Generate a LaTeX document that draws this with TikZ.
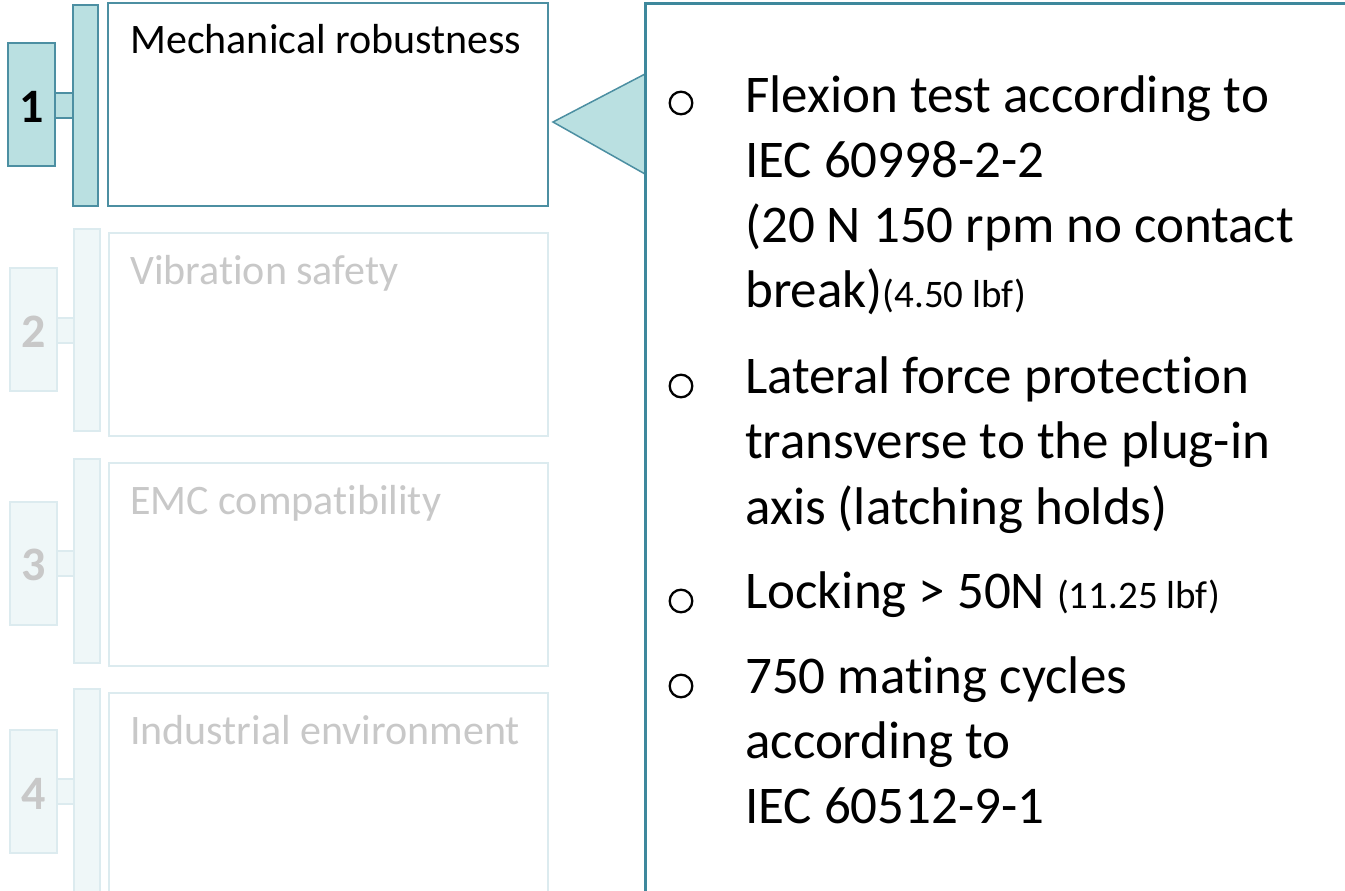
\documentclass[tikz,border=0pt]{standalone}
\usepackage{fontspec}
\setmainfont{Carlito}[RawFeature={-liga;-clig;-dlig;-calt;-rlig}]
\definecolor{tealfill}{HTML}{BAE0E1}
\definecolor{tealline}{HTML}{4C8FA2}
\definecolor{paneline}{HTML}{3E889C}
\definecolor{fadefill}{HTML}{EFF7F8}
\definecolor{fadeline}{HTML}{DCEBEF}
\definecolor{fadetext}{HTML}{C8C8C8}
\tikzset{
  box/.style={anchor=north west, inner sep=0pt, outer sep=0pt},
  onbox/.style={box, draw=tealline, line width=1.5pt},
  offbox/.style={box, draw=fadeline, line width=1.2pt},
  numtxt/.style={font=\fontsize{48}{48}\selectfont\bfseries},
  headtxt/.style={anchor=base west, inner sep=0pt, font=\fontsize{42}{42}\selectfont},
  bodytxt/.style={anchor=base west, inner sep=0pt, font=\fontsize{53}{65}\selectfont},
  bulletring/.style={circle, draw=black, line width=2.3pt, minimum size=22.6pt, inner sep=0pt},
}
\newcommand{\smallnote}[1]{{\fontsize{39}{39}\selectfont #1}}
\begin{document}
\begin{tikzpicture}[x=1pt, y=-1pt]
\useasboundingbox (0,0) rectangle (1345,891);
\clip (0,0) rectangle (1345,891);

% --- item 1 (active) ---
\node[onbox, fill=tealfill, minimum width=47, minimum height=123] (n1) at (8,43) {};
\node[numtxt, anchor=base] (t1) at (32,122) {1};
\node[onbox, fill=tealfill, minimum width=18, minimum height=25] (c1) at (55,93) {};
\node[onbox, fill=tealfill, minimum width=25, minimum height=201] (b1) at (73,5) {};
\node[onbox, fill=white, minimum width=440, minimum height=203] (k1) at (108,3) {};
\node[headtxt] (h1) at (130,54) {Mechanical robustness};

% --- item 2 ---
\node[offbox, fill=fadefill, minimum width=47, minimum height=123] (n2) at (10,268) {};
\node[numtxt, text=fadetext, anchor=base] (t2) at (34,347) {2};
\node[offbox, fill=fadefill, minimum width=17, minimum height=25] (c2) at (57,318) {};
\node[offbox, fill=fadefill, minimum width=26, minimum height=202] (b2) at (74,229) {};
\node[offbox, fill=white, minimum width=439, minimum height=203] (k2) at (109,233) {};
\node[headtxt, text=fadetext] (h2) at (130,284) {Vibration safety};

% --- item 3 ---
\node[offbox, fill=fadefill, minimum width=47, minimum height=123] (n3) at (10,502) {};
\node[numtxt, text=fadetext, anchor=base] (t3) at (34,580) {3};
\node[offbox, fill=fadefill, minimum width=17, minimum height=25] (c3) at (57,551) {};
\node[offbox, fill=fadefill, minimum width=26, minimum height=204] (b3) at (74,459) {};
\node[offbox, fill=white, minimum width=439, minimum height=203] (k3) at (109,463) {};
\node[headtxt, text=fadetext] (h3) at (130,514) {EMC compatibility};

% --- item 4 ---
\node[offbox, fill=fadefill, minimum width=47, minimum height=123] (n4) at (10,730) {};
\node[numtxt, text=fadetext, anchor=base] (t4) at (34,809) {4};
\node[offbox, fill=fadefill, minimum width=17, minimum height=25] (c4) at (57,779) {};
\node[offbox, fill=fadefill, minimum width=26, minimum height=210] (b4) at (74,689) {};
\node[offbox, fill=white, minimum width=439, minimum height=210] (k4) at (109,693) {};
\node[headtxt, text=fadetext] (h4) at (130,744) {Industrial environment};

% --- callout pointer and detail panel ---
\coordinate (tip) at (553,122);
\coordinate (baseA) at (645,74);
\coordinate (baseB) at (645,174);
\filldraw[fill=tealfill, draw=tealline, line width=1.5pt, line join=miter]
  (tip) -- (baseA) -- (baseB) -- cycle;
\node[box, draw=paneline, line width=3pt, fill=none, minimum width=760, minimum height=950] (panel) at (645,4) {};

% --- bullet list ---
\node[bulletring] (r1) at (681,103) {};
\node[bodytxt] (p1a) at (745,112) {Flexion test according to};
\node[bodytxt] (p1b) at (745,177) {IEC 60998-2-2};
\node[bodytxt] (p1c) at (745,242) {(20 N 150 rpm no contact};
\node[bodytxt] (p1d) at (745,307.5) {break)\smallnote{(4.50 lbf)}};

\node[bulletring] (r2) at (681,386) {};
\node[bodytxt] (p2a) at (745,393) {Lateral force protection};
\node[bodytxt] (p2b) at (745,458) {transverse to the plug-in};
\node[bodytxt] (p2c) at (745,524) {axis (latching holds)};

\node[bulletring] (r3) at (681,601) {};
\node[bodytxt] (p3a) at (745,608) {Locking > 50N \smallnote{(11.25 lbf)}};

\node[bulletring] (r4) at (681,686) {};
\node[bodytxt] (p4a) at (745,693) {750 mating cycles};
\node[bodytxt] (p4b) at (745,758) {according to};
\node[bodytxt] (p4c) at (745,823) {IEC 60512-9-1};
\end{tikzpicture}
\end{document}
